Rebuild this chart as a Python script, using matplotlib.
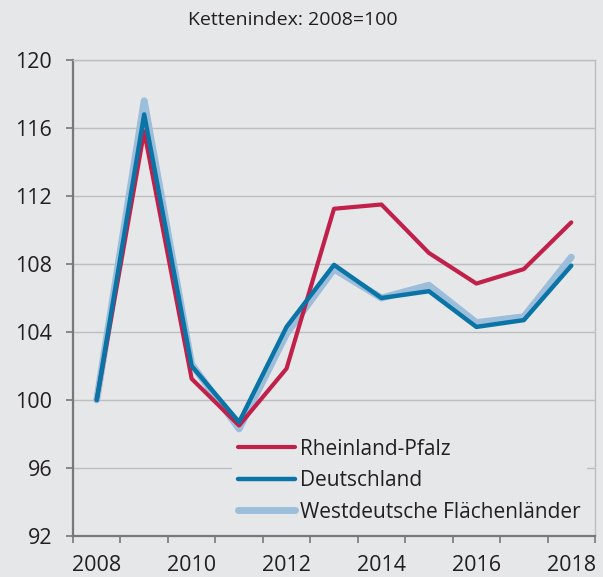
import numpy as np
import matplotlib
matplotlib.use("Agg")
import matplotlib.pyplot as plt

plt.rcParams['font.family'] = ['Open Sans', 'DejaVu Sans']

years = [2008, 2009, 2010, 2011, 2012, 2013, 2014, 2015, 2016, 2017, 2018]
rlp = [100.0, 115.8, 101.25, 98.5, 101.85, 111.25, 111.5, 108.65, 106.85, 107.7, 110.45]
de = [100.0, 116.8, 102.0, 98.7, 104.3, 107.95, 106.0, 106.4, 104.3, 104.7, 107.9]
west = [100.0, 117.6, 102.1, 98.3, 103.9, 107.7, 106.0, 106.75, 104.55, 104.9, 108.4]
labels = ["Rheinland-Pfalz", "Deutschland", "Westdeutsche Flächenländer"]
title = "Kettenindex: 2008=100"

BG = "#e6e7e8"
GRID = "#bcbec0"
SPINE = "#77787b"
TXT = "#231f20"

fig = plt.figure(figsize=(6.03, 5.77), dpi=100, facecolor=BG)
ax = fig.add_axes([73 / 603, 1 - 536 / 577, (595 - 73) / 603, (536 - 60) / 577])
ax.set_facecolor(BG)

x = np.arange(len(years))
l3, = ax.plot(x, west, color="#9dbedb", lw=5.0, solid_capstyle='round', solid_joinstyle='round', zorder=3)
l1, = ax.plot(x, rlp, color="#c0204a", lw=3.0, solid_capstyle='round', solid_joinstyle='round', zorder=4)
l2, = ax.plot(x, de, color="#0a74a6", lw=3.2, solid_capstyle='round', solid_joinstyle='round', zorder=5)

ax.set_ylim(92, 120)
ax.set_yticks(np.arange(92, 121, 4))
ax.set_xlim(-0.5, len(years) - 0.5)
# ticks at category borders, labels at every second category centre
ax.set_xticks(np.arange(-0.5, len(years), 1.0))
ax.set_xticklabels([])
ax.set_xticks(x[::2], minor=True)
ax.set_xticklabels([str(y) for y in years[::2]], minor=True)

ax.grid(axis='y', color=GRID, lw=1.0, zorder=0)
ax.set_axisbelow(True)

for s in ['left', 'bottom']:
    ax.spines[s].set_color(SPINE)
    ax.spines[s].set_linewidth(1.6)
for s in ['top', 'right']:
    ax.spines[s].set_color(GRID)
    ax.spines[s].set_linewidth(1.0)

ax.tick_params(axis='y', which='major', direction='out', length=5, width=1.2,
               color=SPINE, labelsize=15.5, labelcolor=TXT, pad=10)
ax.tick_params(axis='x', which='major', direction='out', length=5, width=1.2,
               color=SPINE)
ax.tick_params(axis='x', which='minor', length=0, labelsize=15.5, labelcolor=TXT, pad=14)
ax.tick_params(axis='y', which='minor', length=0)

leg = ax.legend([l1, l2, l3], labels, loc='lower left', bbox_to_anchor=(0.305, 0.015),
                frameon=True, facecolor=BG, edgecolor='none', framealpha=1, fancybox=False,
                fontsize=15, handlelength=2.7, handletextpad=0.25, labelspacing=0.5,
                borderpad=0.3, borderaxespad=0)
for t in leg.get_texts():
    t.set_color(TXT)
leg.set_zorder(6)

fig.text(293 / 603, 1 - 20 / 577, title, ha='center', va='center', fontsize=14, color=TXT)

fig.savefig("out.png", dpi=100, facecolor=BG)
